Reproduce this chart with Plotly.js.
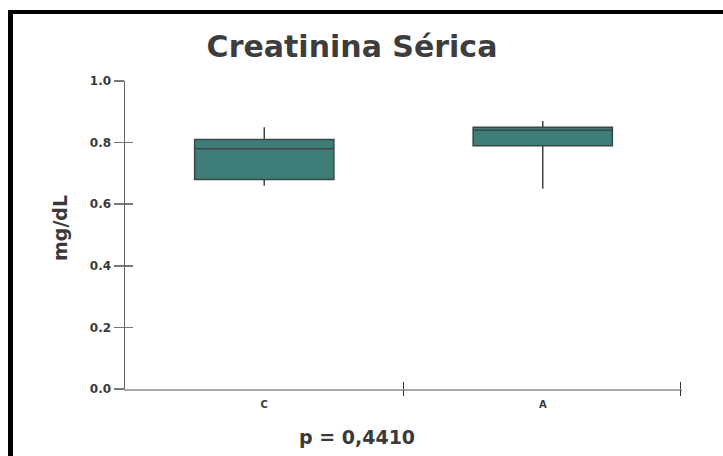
<!DOCTYPE html>
<html>
<head>
<meta charset="utf-8">
<script src="https://cdn.plot.ly/plotly-3.0.1.min.js"></script>
<style>
  html, body { margin: 0; padding: 0; background: #fff; }
  #wrap { position: relative; width: 723px; height: 456px; overflow: hidden; }
  #chart { width: 723px; height: 456px; }
  #frame { position: absolute; left: 8px; top: 10px; width: 900px; height: 600px;
           border-left: 5px solid #000; border-top: 4px solid #000; pointer-events: none; }
</style>
</head>
<body>
<div id="wrap">
  <div id="chart"></div>
  <div id="frame"></div>
</div>
<script>
// Data
const categories = ["C", "A"];
const lowerFence = [0.66, 0.65];
const q1Values   = [0.68, 0.79];
const medians    = [0.78, 0.84];
const q3Values   = [0.81, 0.85];
const upperFence = [0.85, 0.87];
const yTickVals  = [0, 0.2, 0.4, 0.6, 0.8, 1.0];
const xBoundaryTicks = [0.5, 1.495];
const titleText  = "Creatinina Sérica";
const yTitleText = "mg/dL";
const pText      = "p = 0,4410";

const FONT = "DejaVu Sans";

const boxTrace = {
  type: "box",
  x: categories,
  q1: q1Values,
  median: medians,
  q3: q3Values,
  lowerfence: lowerFence,
  upperfence: upperFence,
  width: 0.5,
  whiskerwidth: 0,
  boxpoints: false,
  fillcolor: "#3e7d78",
  line: { color: "#3a4746", width: 1.5 },
  hoverinfo: "skip",
  showlegend: false
};

// empty helper traces so the overlay axes (both halves of the crossing ticks) get drawn
const tickHelper2 = {
  type: "scatter", x: [null], y: [null],
  xaxis: "x2", yaxis: "y2", mode: "markers",
  hoverinfo: "skip", showlegend: false
};
const tickHelper3 = {
  type: "scatter", x: [null], y: [null],
  xaxis: "x3", yaxis: "y2", mode: "markers",
  hoverinfo: "skip", showlegend: false
};

const overlayX = (side) => ({
  overlaying: "x",
  anchor: "y",
  range: [-0.5, 1.5],
  tickvals: xBoundaryTicks,
  ticks: side,
  ticklen: side === "inside" ? 7 : 6,
  tickwidth: 1.5,
  tickcolor: "#333",
  showticklabels: false,
  showline: false,
  showgrid: false,
  zeroline: false
});

const layout = {
  width: 723,
  height: 456,
  margin: { l: 125, r: 41, t: 81, b: 67 },
  paper_bgcolor: "#ffffff",
  plot_bgcolor: "rgba(0,0,0,0)",
  showlegend: false,
  title: {
    text: titleText,
    font: { family: FONT, size: 30, weight: "bold", color: "#3d3d3d" },
    xref: "container", yref: "container",
    x: 352 / 723, xanchor: "center",
    y: 1 - 46 / 456, yanchor: "middle"
  },
  xaxis: {
    type: "category",
    range: [-0.5, 1.5],
    ticks: "outside",
    ticklen: 5,
    tickcolor: "rgba(0,0,0,0)",
    showline: true,
    linecolor: "#a8a8a8",
    linewidth: 2,
    showgrid: false,
    zeroline: false,
    tickfont: { family: FONT, size: 10, weight: "bold", color: "#3a3a3a" }
  },
  xaxis2: overlayX("inside"),
  xaxis3: overlayX("outside"),
  yaxis: {
    range: [0, 1],
    tickvals: yTickVals,
    tickformat: ".1f",
    ticks: "outside",
    ticklen: 10,
    tickwidth: 1.5,
    tickcolor: "#777",
    showline: true,
    linecolor: "#666",
    linewidth: 1.5,
    showgrid: false,
    zeroline: false,
    tickfont: { family: FONT, size: 12, weight: "bold", color: "#3a3a3a" }
  },
  yaxis2: {
    overlaying: "y",
    anchor: "x",
    side: "left",
    range: [0, 1],
    tickvals: yTickVals,
    ticks: "inside",
    ticklen: 8,
    tickwidth: 1.5,
    tickcolor: "#777",
    showticklabels: false,
    showline: false,
    showgrid: false,
    zeroline: false
  },
  annotations: [
    {
      text: yTitleText, textangle: -90,
      xref: "paper", yref: "paper",
      x: (60 - 125) / 557, y: (389 - 228) / 308,
      xanchor: "center", yanchor: "middle", showarrow: false,
      font: { family: FONT, size: 19, weight: "bold", color: "#3a3a3a" }
    },
    {
      text: pText,
      xref: "paper", yref: "paper",
      x: (357 - 125) / 557, y: (389 - 437) / 308,
      xanchor: "center", yanchor: "middle", showarrow: false,
      font: { family: FONT, size: 19, weight: "bold", color: "#3a3a3a" }
    }
  ]
};

Plotly.newPlot("chart", [boxTrace, tickHelper2, tickHelper3], layout, { staticPlot: true, displayModeBar: false });
</script>
</body>
</html>
